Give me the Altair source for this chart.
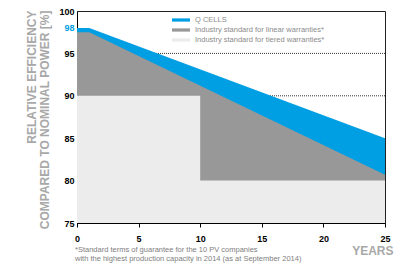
import altair as alt
import pandas as pd

# ---- data ----
series_names = ["Q CELLS",
                "Industry standard for linear warranties*",
                "Industry standard for tiered warranties*"]
series_colors = ["#009fe3", "#989898", "#ececec"]

years_q = [0, 1, 25]
eff_q = [98, 98, 85]

years_lin = [0, 1, 25]
eff_lin = [97.5, 97.5, 80.7]

years_tier = [0, 10, 25]
eff_tier = [90, 80, 80]

dotted_levels = [95, 90]
y_ticks = [75, 80, 85, 90, 95, 98, 100]
x_ticks = [0, 5, 10, 15, 20, 25]

y_title = ["RELATIVE EFFICIENCY", "COMPARED TO NOMINAL POWER [%]"]
x_title = "YEARS"
footnote = ("*Standard terms of guarantee for the 10 PV companies\n"
            "with the highest production capacity in 2014 (as at September 2014)")

FONT = "Liberation Sans"

df_q = pd.DataFrame({"year": years_q, "eff": eff_q, "series": series_names[0]})
df_lin = pd.DataFrame({"year": years_lin, "eff": eff_lin, "series": series_names[1]})
df_tier = pd.DataFrame({"year": years_tier, "eff": eff_tier, "series": series_names[2]})
df_dot = pd.DataFrame({"eff": dotted_levels})
df_note = pd.DataFrame({"t": [footnote]})

X = alt.X("year:Q",
          scale=alt.Scale(domain=[0, 25], nice=False, zero=False),
          axis=alt.Axis(values=x_ticks, title=x_title, grid=False,
                        domainColor="#000", domainWidth=1,
                        tickColor="#000", tickSize=4, tickWidth=1,
                        labelFont=FONT, labelFontSize=9, labelFontWeight="bold",
                        labelColor="#000", labelPadding=7, labelFlush=False,
                        titleFont=FONT, titleFontSize=12, titleFontWeight="bold",
                        titleColor="#a8a8a8", titleAlign="right",
                        titleBaseline="alphabetic", titleX=316, titleY=31))

Y = alt.Y("eff:Q",
          scale=alt.Scale(domain=[75, 100], nice=False, zero=False),
          axis=alt.Axis(values=y_ticks, title=y_title, grid=False,
                        domainColor="#000", domainWidth=1, ticks=False,
                        labelFont=FONT, labelFontSize=9, labelFontWeight="bold",
                        labelColor={"condition": {"test": "datum.value === 98",
                                                  "value": "#009fe3"},
                                    "value": "#000"},
                        labelPadding=3, labelFlush=False, labelOverlap=False,
                        titleFont=FONT, titleFontSize=12, titleFontWeight="bold",
                        titleColor="#a8a8a8", titleAngle=270, titleAlign="right",
                        titleBaseline="alphabetic", titleLineHeight=13,
                        titleX=-42, titleY=-1))

color = alt.Color("series:N",
                  scale=alt.Scale(domain=series_names, range=series_colors),
                  legend=alt.Legend(title=None, orient="none", legendX=98, legendY=3,
                                    symbolType="M-1.5,-0.27H1.5V0.27H-1.5Z",
                                    symbolSize=144, symbolStrokeWidth=0,
                                    symbolOpacity=1, rowPadding=0, padding=0,
                                    labelFont=FONT, labelFontSize=7.5,
                                    labelColor="#8c8c8c", labelOffset=8))

rules = alt.Chart(df_dot).mark_rule(color="#333", strokeWidth=1,
                                    strokeDash=[1, 1]).encode(y=Y)

area_q = alt.Chart(df_q).mark_area(opacity=1).encode(
    x=X, y=Y, y2=alt.datum(75), color=color)
area_lin = alt.Chart(df_lin).mark_area(opacity=1).encode(
    x=X, y=Y, y2=alt.datum(75), color=color)
area_tier = alt.Chart(df_tier).mark_area(opacity=1, interpolate="step-after").encode(
    x=X, y=Y, y2=alt.datum(75), color=color)

note = alt.Chart(df_note).mark_text(
    align="left", baseline="alphabetic", font=FONT, fontSize=7.5,
    color="#808080", lineBreak="\n", lineHeight=9
).encode(x=alt.value(-2), y=alt.value(241), text="t:N")

chart = alt.layer(rules, area_q, area_lin, area_tier, note).properties(
    width=308, height=212,
    autosize=alt.AutoSizeParams(type="none"),
    padding={"left": 69, "top": 3, "right": 9, "bottom": 40},
).configure_view(stroke="#222", strokeWidth=1)

chart.save("out.html", embed_options={"renderer": "svg", "actions": False})
